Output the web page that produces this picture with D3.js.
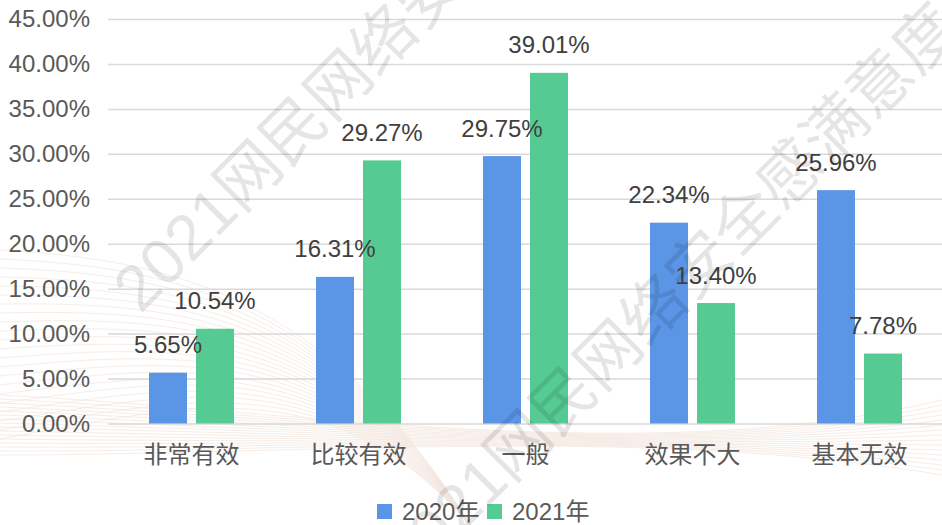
<!DOCTYPE html>
<html>
<head>
<meta charset="utf-8">
<script src="https://cdn.jsdelivr.net/npm/d3@7"></script>
<style>
  html, body { margin: 0; padding: 0; background: #fff; }
  #chart { width: 942px; height: 525px; }
  text { font-family: "Liberation Sans", Arial, "Noto Sans CJK SC", sans-serif; }
</style>
</head>
<body>
<div id="chart"></div>
<script>
// Données
const categories = ["非常有效", "比较有效", "一般", "效果不大", "基本无效"];
const seriesNames = ["2020年", "2021年"];
const values2020 = [5.65, 16.31, 29.75, 22.34, 25.96];
const values2021 = [10.54, 29.27, 39.01, 13.40, 7.78];
const yTicks = [0, 5, 10, 15, 20, 25, 30, 35, 40, 45];
const watermark = "2021网民网络安全感满意度";

const colors = ["#5B95E5", "#55CB93"];
const W = 942, H = 525;
const margin = { top: 19, right: -1, bottom: 101.5, left: 108 };

const svg = d3.select("#chart").append("svg")
  .attr("width", W).attr("height", H)
  .attr("viewBox", [0, 0, W, H]);

// Fond décoratif : faisceau de courbes très pâles
const deco = svg.append("g").attr("fill", "none").attr("stroke", "#d9a98f")
  .attr("stroke-width", 0.6).attr("opacity", 0.35);
for (let i = 0; i < 22; i++) {
  const p = d3.path();
  p.moveTo(0, 250 + i * 9);
  p.bezierCurveTo(180, 260 + i * 7, 330, 300 + i * 3, 470, 525);
  deco.append("path").attr("d", p.toString());
}
for (let i = 0; i < 16; i++) {
  const p = d3.path();
  p.moveTo(0, 395 + i * 4);
  p.bezierCurveTo(300, 410 + i * 3, 650, 470 - i * 3, 942, 400 + i * 5);
  deco.append("path").attr("d", p.toString());
}

// Échelles
const x = d3.scaleBand()
  .domain(categories)
  .range([margin.left, W - margin.right])
  .paddingInner(0.491)
  .paddingOuter(0.2455);
const xs = d3.scaleBand()
  .domain(seriesNames)
  .range([0, x.bandwidth()])
  .paddingInner(0.1915);
const y = d3.scaleLinear()
  .domain([0, 45])
  .range([H - margin.bottom, margin.top]);

const fmt = v => v.toFixed(2) + "%";

// Grille + axe Y
const yAxis = svg.append("g")
  .attr("transform", `translate(${margin.left},0)`)
  .call(d3.axisLeft(y).tickValues(yTicks).tickFormat(fmt)
    .tickSize(-(W - margin.right - margin.left)).tickPadding(18));
yAxis.select(".domain").remove();
yAxis.selectAll(".tick line").attr("stroke", "#d9d9d9").attr("stroke-width", 1.5);
yAxis.selectAll(".tick text").attr("fill", "#595959").attr("font-size", 24);

// Axe X (libellés)
const xAxis = svg.append("g")
  .attr("transform", `translate(0,${H - margin.bottom})`)
  .call(d3.axisBottom(x).tickSize(0).tickPadding(22));
xAxis.select(".domain").remove();
xAxis.selectAll(".tick text").attr("fill", "#595959").attr("font-size", 24);

// Barres
const rows = categories.map((c, i) => ({ cat: c, vals: [values2020[i], values2021[i]] }));
const groups = svg.append("g").selectAll("g")
  .data(rows)
  .join("g")
    .attr("transform", d => `translate(${x(d.cat)},0)`);

groups.selectAll("rect")
  .data(d => d.vals.map((v, k) => ({ s: seriesNames[k], v, k })))
  .join("rect")
    .attr("x", d => xs(d.s))
    .attr("y", d => y(d.v))
    .attr("width", xs.bandwidth())
    .attr("height", d => y(0) - y(d.v))
    .attr("fill", d => colors[d.k]);

groups.selectAll("text")
  .data(d => d.vals.map((v, k) => ({ s: seriesNames[k], v, k })))
  .join("text")
    .attr("x", d => xs(d.s) + xs.bandwidth() / 2)
    .attr("y", d => y(d.v) - 19.5)
    .attr("text-anchor", "middle")
    .attr("fill", "#404040")
    .attr("font-size", 24)
    .text(d => fmt(d.v));

// Légende
const legend = svg.append("g").attr("transform", "translate(377,504)");
const lx = [0, 110];
seriesNames.forEach((name, k) => {
  const g = legend.append("g").attr("transform", `translate(${lx[k]},0)`);
  g.append("rect").attr("width", 15).attr("height", 15).attr("fill", colors[k]);
  g.append("text").attr("x", 25).attr("y", 7.5).attr("dy", "0.36em")
    .attr("fill", "#595959").attr("font-size", 24).text(name);
});

// Filigrane (par-dessus le graphique)
const wm = svg.append("g").attr("pointer-events", "none");
[[125, 299], [395, 569]].forEach(([wx, wy]) => {
  wm.append("text")
    .attr("transform", `translate(${wx},${wy}) rotate(-45)`)
    .attr("dominant-baseline", "central")
    .attr("font-family", "'Noto Sans CJK SC', sans-serif")
    .attr("font-size", 64)
    .attr("fill", "#000")
    .attr("fill-opacity", 0.1)
    .text(watermark);
});
</script>
</body>
</html>
